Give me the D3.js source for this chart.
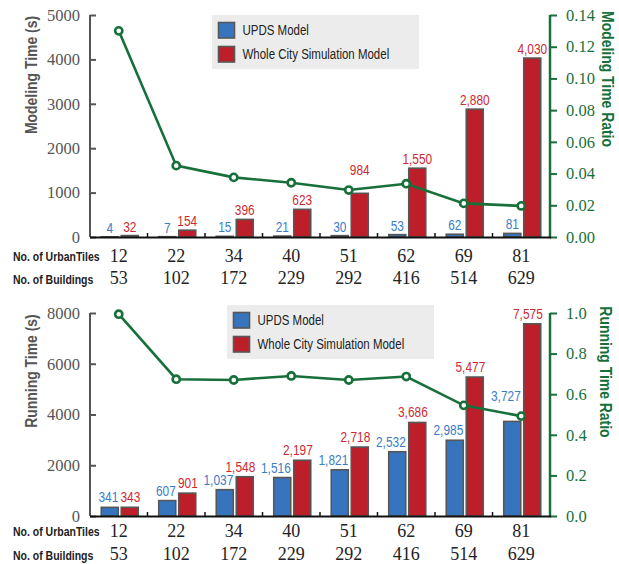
<!DOCTYPE html>
<html>
<head>
<meta charset="utf-8">
<script src="https://cdn.jsdelivr.net/npm/d3@7"></script>
<style>
  html, body { margin: 0; padding: 0; background: #fff; }
  svg { display: block; }
</style>
</head>
<body>
<svg id="chart" width="619" height="564"></svg>
<script>
// Shared categories
const urbanTiles = [12, 22, 34, 40, 51, 62, 69, 81];
const buildings = [53, 102, 172, 229, 292, 416, 514, 629];
const seriesNames = ["UPDS Model", "Whole City Simulation Model"];

// Modeling time (s) and ratio
const modelingUPDS = [4, 7, 15, 21, 30, 53, 62, 81];
const modelingWhole = [32, 154, 396, 623, 984, 1550, 2880, 4030];
const modelingRatio = [0.130, 0.045, 0.0376, 0.0342, 0.0296, 0.0336, 0.0212, 0.0196];
const modelingTicks = [0, 1000, 2000, 3000, 4000, 5000];
const modelingRatioTicks = [0, 0.02, 0.04, 0.06, 0.08, 0.10, 0.12, 0.14];

// Running time (s) and ratio
const runningUPDS = [341, 607, 1037, 1516, 1821, 2532, 2985, 3727];
const runningWhole = [343, 901, 1548, 2197, 2718, 3686, 5477, 7575];
const runningRatio = [0.994, 0.674, 0.670, 0.690, 0.670, 0.687, 0.545, 0.492];
const runningTicks = [0, 2000, 4000, 6000, 8000];
const runningRatioTicks = [0, 0.2, 0.4, 0.6, 0.8, 1.0];

const COL = {
  blue: "#3675bd", red: "#bd1f2a", green: "#17703a",
  blueText: "#3a7cc7", redText: "#cc2a33",
  stroke: "#575757", axis: "#555", text: "#222", legendBg: "#ececec"
};
const SERIF = "'Liberation Serif', 'Times New Roman', serif";
const SANS = "'Liberation Sans', Arial, sans-serif";
const SQUEEZE = 0.82; // condensed look for the sans-serif labels

const svg = d3.select("#chart");
const X0 = 90, X1 = 550;

// condensed sans text placed at (x, y), optionally rotated
function narrowText(parent, x, y, str, o) {
  const rot = o.rotate ? ` rotate(${o.rotate})` : "";
  const t = parent.append("text")
    .attr("transform", `translate(${x},${y})${rot} scale(${SQUEEZE},1)`)
    .attr("text-anchor", o.anchor || "start")
    .attr("fill", o.fill || COL.text)
    .style("font-family", SANS)
    .style("font-size", o.size + "px")
    .style("font-weight", o.bold ? "bold" : "normal")
    .text(str);
  if (o.dy) t.attr("dy", o.dy);
  return t;
}

function panel(cfg) {
  const g = svg.append("g");
  const x = d3.scaleBand().domain(urbanTiles).range([X0, X1]);
  const sub = d3.scaleBand().domain(seriesNames).range([-17.5, 19.5]).paddingInner(0.15);
  const y = d3.scaleLinear().domain([0, cfg.yMax]).range([cfg.bottom, cfg.top]);
  const yr = d3.scaleLinear().domain([0, cfg.rMax]).range([cfg.bottom, cfg.top]);
  const fmt = d3.format(",");

  // left axis (ticks point inward)
  const left = g.append("g").attr("transform", `translate(${X0},0)`)
    .call(d3.axisLeft(y).tickValues(cfg.yTicks).tickSize(-6).tickPadding(10).tickFormat(d3.format("d")));
  left.select(".domain").attr("stroke", COL.axis).attr("stroke-width", 2).attr("d", `M0,${cfg.bottom}V${cfg.top}`);
  left.selectAll(".tick line").attr("stroke", COL.axis).attr("stroke-width", 2);
  left.selectAll(".tick text").attr("fill", "#555").style("font-family", SERIF).style("font-size", "16.5px");

  // right axis (ticks point outward)
  const right = g.append("g").attr("transform", `translate(${X1},0)`)
    .call(d3.axisRight(yr).tickValues(cfg.rTicks).tickSize(7).tickPadding(9).tickFormat(d3.format(cfg.rFmt)));
  right.select(".domain").attr("stroke", COL.green).attr("stroke-width", 2.5).attr("d", `M0,${cfg.bottom}V${cfg.top}`);
  right.selectAll(".tick line").attr("stroke", COL.green).attr("stroke-width", 2);
  right.selectAll(".tick text").attr("fill", COL.green).style("font-family", SERIF).style("font-size", "16.5px");

  // bars
  const rows = urbanTiles.map((t, i) => ({ t, i, vals: [cfg.a[i], cfg.b[i]] }));
  const grp = g.selectAll("g.cat").data(rows).join("g").attr("class", "cat")
    .attr("transform", d => `translate(${x(d.t) + x.bandwidth() / 2},0)`);
  grp.selectAll("rect").data(d => d.vals.map((v, k) => ({ v, k, s: seriesNames[k] })))
    .join("rect")
    .attr("x", d => sub(d.s))
    .attr("width", sub.bandwidth())
    .attr("y", d => y(d.v))
    .attr("height", d => cfg.bottom - y(d.v))
    .attr("fill", d => d.k === 0 ? COL.blue : COL.red)
    .attr("stroke", COL.stroke).attr("stroke-width", 1.6);

  // x axis baseline with small inward ticks at band boundaries
  g.append("line").attr("x1", X0).attr("x2", X1 + 1).attr("y1", cfg.bottom + 0.5).attr("y2", cfg.bottom + 0.5)
    .attr("stroke", "#111").attr("stroke-width", 2.2);
  g.selectAll("line.xt").data(urbanTiles.slice(1)).join("line").attr("class", "xt")
    .attr("x1", d => x(d)).attr("x2", d => x(d))
    .attr("y1", cfg.bottom).attr("y2", cfg.bottom - 4)
    .attr("stroke", "#111").attr("stroke-width", 1.5);

  // ratio line
  const pts = cfg.r.map((v, i) => [x(urbanTiles[i]) + x.bandwidth() / 2, yr(v)]);
  g.append("path").attr("d", d3.line()(pts)).attr("fill", "none")
    .attr("stroke", COL.green).attr("stroke-width", 2.6);

  // value labels
  grp.each(function (d) {
    const cx = x(d.t) + x.bandwidth() / 2;
    d.vals.forEach((v, k) => {
      const s = seriesNames[k];
      const barTop = y(v);
      let bx, anchor;
      if (cfg.centered) { bx = sub(s) + sub.bandwidth() / 2; anchor = "middle"; }
      else { bx = sub(s) + sub.bandwidth() + (k === 1 ? 2 : 0); anchor = "end"; }
      let base = barTop - (cfg.centered ? 4 : 5);
      // lift a label clear of the ratio marker if they collide
      const [mx, my] = pts[d.i];
      const w = fmt(v).length * 6.5;
      const lx0 = anchor === "end" ? cx + bx - w : cx + bx - w / 2;
      const lx1 = lx0 + w;
      if (lx1 > mx - 6 && lx0 < mx + 6 && base > my - 6 && base - 11 < my + 6) base = my - 15;
      narrowText(d3.select(this), bx, base, fmt(v), {
        anchor, size: 14.5, fill: k === 0 ? COL.blueText : COL.redText
      });
    });
  });

  // ratio markers
  g.selectAll("circle.m").data(pts).join("circle").attr("class", "m")
    .attr("cx", d => d[0]).attr("cy", d => d[1]).attr("r", 3.6)
    .attr("fill", "#fff").attr("stroke", COL.green).attr("stroke-width", 2.6);

  // category rows
  const rowsDef = [
    { label: "No. of UrbanTiles", vals: urbanTiles, yb: cfg.row1 },
    { label: "No. of Buildings", vals: buildings, yb: cfg.row2 }
  ];
  rowsDef.forEach(r => {
    narrowText(g, 13, r.yb - 0.5, r.label, { size: 12.8, bold: true });
    g.selectAll(null).data(r.vals).join("text")
      .attr("x", (d, i) => x(urbanTiles[i]) + x.bandwidth() / 2).attr("y", r.yb)
      .attr("text-anchor", "middle").attr("fill", COL.text)
      .style("font-family", SERIF).style("font-size", "18px")
      .text(d => d);
  });

  // axis titles
  narrowText(g, cfg.lt[0], cfg.lt[1], cfg.leftTitle,
    { rotate: -90, anchor: "middle", dy: "0.35em", fill: "#555", size: 17, bold: true });
  narrowText(g, cfg.rt[0], cfg.rt[1], cfg.rightTitle,
    { rotate: 90, anchor: "middle", dy: "0.35em", fill: COL.green, size: 17, bold: true });

  // legend
  const lg = g.append("g").attr("transform", `translate(${cfg.legend[0]},${cfg.legend[1]})`);
  lg.append("rect").attr("width", 207).attr("height", 54).attr("fill", COL.legendBg);
  seriesNames.forEach((s, k) => {
    lg.append("rect").attr("x", 6.5).attr("y", 7.5 + k * 24).attr("width", 16).attr("height", 15.5)
      .attr("fill", k === 0 ? COL.blue : COL.red).attr("stroke", COL.stroke).attr("stroke-width", 1.6);
    narrowText(lg, 30.5, 15.5 + k * 24, s, { dy: "0.35em", size: 14 });
  });
}

panel({
  a: modelingUPDS, b: modelingWhole, r: modelingRatio,
  yMax: 5000, yTicks: modelingTicks, rMax: 0.14, rTicks: modelingRatioTicks, rFmt: ".2f",
  top: 15, bottom: 237, row1: 261.5, row2: 284, centered: true,
  leftTitle: "Modeling Time (s)", rightTitle: "Modeling Time Ratio",
  lt: [31, 75], rt: [608, 79], legend: [212, 15]
});

panel({
  a: runningUPDS, b: runningWhole, r: runningRatio,
  yMax: 8000, yTicks: runningTicks, rMax: 1.0, rTicks: runningRatioTicks, rFmt: ".1f",
  top: 313, bottom: 516, row1: 536.5, row2: 560, centered: false,
  leftTitle: "Running Time (s)", rightTitle: "Running Time Ratio",
  lt: [31, 371], rt: [606, 372], legend: [227, 305]
});
</script>
</body>
</html>
